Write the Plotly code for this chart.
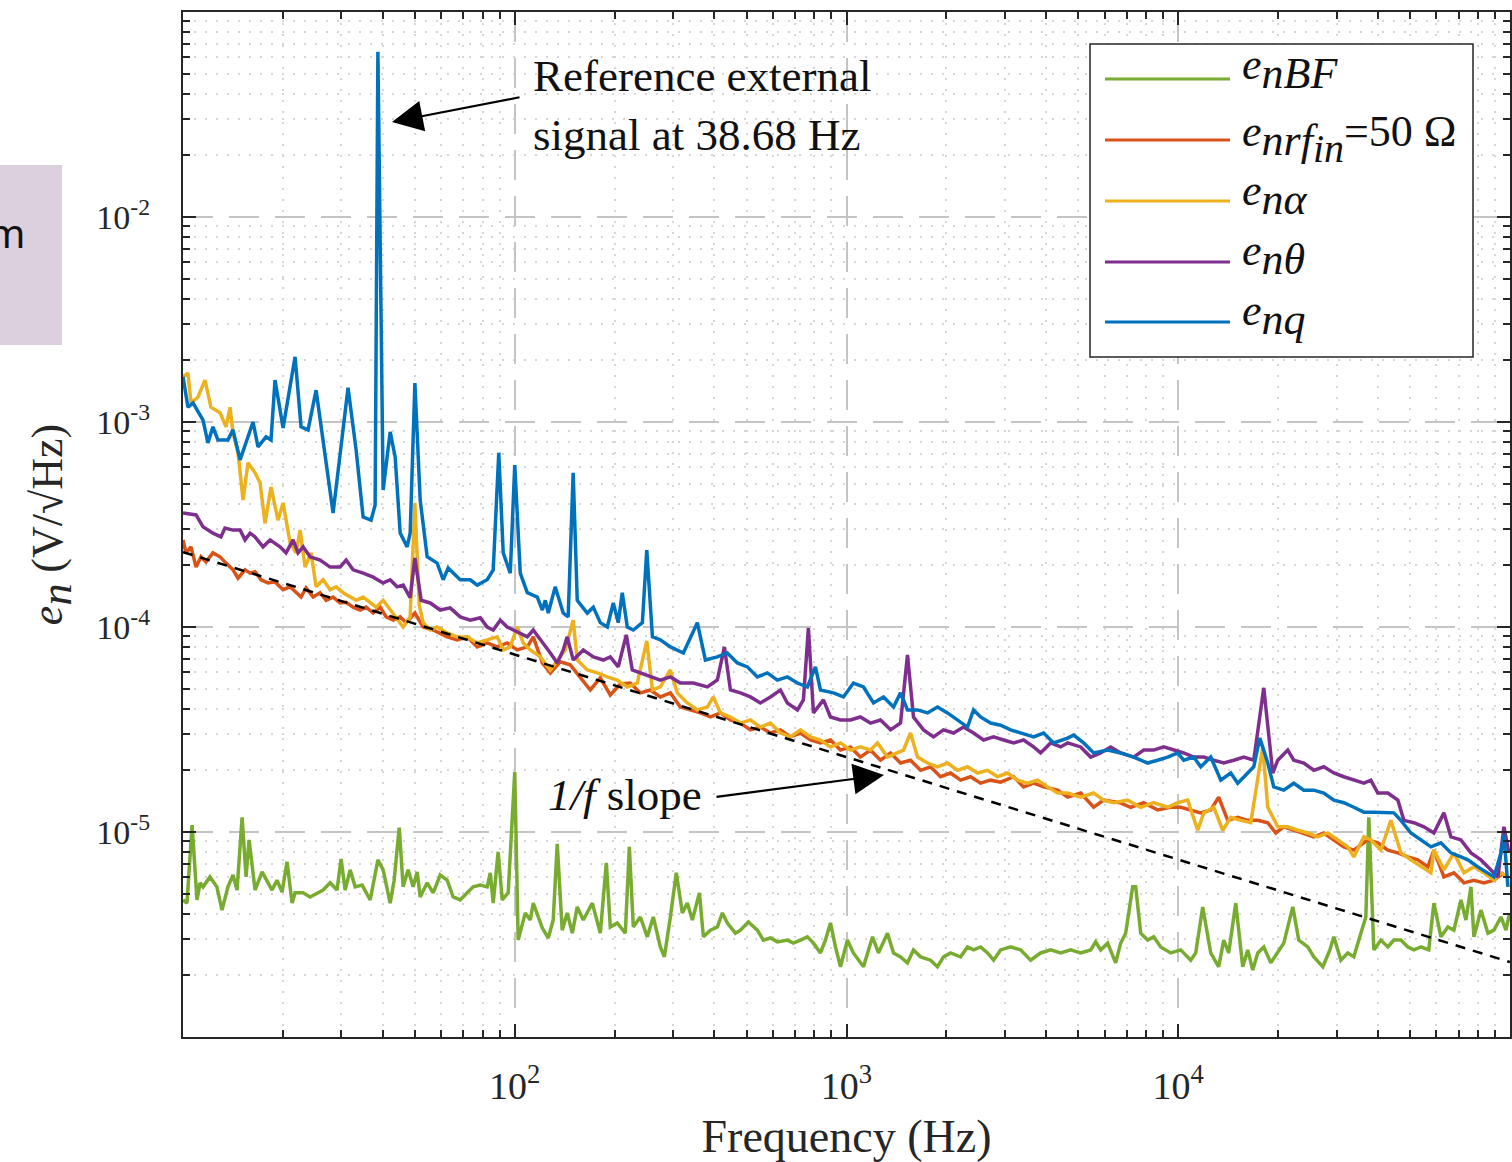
import plotly.graph_objects as go

# ---------------- data ----------------
# e_nBF (green)
freq_bf = [10.0, 10.28, 10.65, 11.02, 11.26, 11.49, 12.06, 12.65, 13.11, 13.66,
           14.15, 14.55, 15.07, 15.49, 15.82, 16.49, 17.31, 17.92, 18.55, 19.2,
           19.89, 20.59, 21.32, 21.77, 23.01, 24.16, 25.36, 26.44, 27.76, 29.13,
           29.96, 30.81, 31.9, 33.03, 34.67, 36.66, 38.68, 40.11, 42.12, 43.3,
           44.85, 46.09, 47.7, 49.41, 50.79, 51.88, 54.44, 56.77, 59.61, 62.55,
           65.23, 68.49, 71.88, 74.95, 78.7, 82.59, 84.36, 86.12, 89.1, 91.67,
           95.54, 100.0, 102.4, 107.6, 111.4, 113.7, 121.1, 126.2, 130.6, 134.3,
           139.0, 143.9, 149.1, 154.3, 160.9, 171.3, 181.1, 188.8, 194.1, 203.7,
           215.4, 221.5, 227.7, 239.1, 250.9, 261.6, 274.7, 282.5, 294.5, 306.9,
           320.0, 331.3, 343.0, 350.2, 360.3, 370.3, 388.8, 408.0, 422.5, 437.4,
           462.5, 478.9, 506.0, 538.7, 561.7, 589.8, 619.0, 663.5, 691.8, 726.4,
           762.4, 794.9, 834.6, 864.0, 894.7, 926.2, 959.1, 1006, 1049, 1125,
           1198, 1248, 1329, 1386, 1455, 1527, 1592, 1672, 1792, 1880,
           1961, 2059, 2207, 2316, 2415, 2536, 2662, 2775, 2914, 3124,
           3348, 3589, 3847, 4124, 4421, 4739, 5080, 5445, 5637, 5837,
           6125, 6476, 6706, 6942, 7288, 7442, 7706, 8086, 8432, 8854,
           9491, 10173, 10905, 11289, 11850, 12530, 13240, 13712, 14192, 14904,
           15645, 16196, 16771, 17362, 18104, 19009, 19950, 20802, 22142, 23078,
           24572, 25621, 27272, 28645, 29440, 30912, 32441, 33827, 35518, 36768,
           37529, 38868, 40811, 42831, 44661, 46894, 49213, 51317, 53883, 56900,
           58964, 61912, 64976, 67752, 71140, 73642, 76256, 77849, 81741, 85786,
           89451, 93924, 97228, 99500]
en_bf = [4.66e-6, 4.50e-6, 1.08e-5, 4.66e-6, 5.65e-6, 5.40e-6, 6.04e-6, 5.40e-6, 4.16e-6, 5.40e-6,
         6.17e-6, 5.21e-6, 1.18e-5, 6.04e-6, 9.15e-6, 5.21e-6, 6.39e-6, 5.82e-6, 5.21e-6, 5.82e-6,
         5.10e-6, 7.15e-6, 4.50e-6, 5.05e-6, 5.05e-6, 4.82e-6, 5.05e-6, 5.21e-6, 5.65e-6, 5.21e-6,
         7.39e-6, 5.21e-6, 6.54e-6, 5.40e-6, 5.51e-6, 4.66e-6, 7.31e-6, 6.54e-6, 4.50e-6, 5.82e-6,
         1.05e-5, 5.40e-6, 6.54e-6, 5.40e-6, 6.39e-6, 4.82e-6, 5.65e-6, 5.05e-6, 6.17e-6, 5.82e-6,
         4.82e-6, 4.66e-6, 5.05e-6, 5.40e-6, 5.51e-6, 5.40e-6, 6.32e-6, 4.50e-6, 8.00e-6, 4.66e-6,
         5.05e-6, 1.96e-5, 2.97e-6, 4.03e-6, 3.72e-6, 4.50e-6, 3.40e-6, 3.04e-6, 3.72e-6, 8.75e-6,
         3.32e-6, 4.03e-6, 3.21e-6, 4.31e-6, 3.72e-6, 4.50e-6, 3.21e-6, 7.07e-6, 3.44e-6, 3.60e-6,
         3.21e-6, 8.46e-6, 3.44e-6, 3.85e-6, 3.08e-6, 3.85e-6, 2.75e-6, 2.46e-6, 3.85e-6, 6.32e-6,
         4.03e-6, 4.50e-6, 3.72e-6, 4.31e-6, 5.05e-6, 3.08e-6, 3.32e-6, 3.44e-6, 4.03e-6, 3.60e-6,
         3.21e-6, 3.32e-6, 3.64e-6, 3.32e-6, 2.97e-6, 3.04e-6, 2.91e-6, 2.97e-6, 2.87e-6, 2.97e-6,
         3.08e-6, 2.87e-6, 2.57e-6, 2.97e-6, 3.60e-6, 2.75e-6, 2.20e-6, 2.97e-6, 2.57e-6, 2.20e-6,
         3.08e-6, 2.57e-6, 3.21e-6, 2.57e-6, 2.46e-6, 2.30e-6, 2.66e-6, 2.46e-6, 2.37e-6, 2.20e-6,
         2.46e-6, 2.57e-6, 2.46e-6, 2.75e-6, 2.66e-6, 2.75e-6, 2.57e-6, 2.37e-6, 2.66e-6, 2.75e-6,
         2.66e-6, 2.37e-6, 2.57e-6, 2.66e-6, 2.57e-6, 2.66e-6, 2.57e-6, 2.66e-6, 2.91e-6, 2.66e-6,
         2.87e-6, 2.30e-6, 2.87e-6, 3.21e-6, 5.40e-6, 5.40e-6, 3.21e-6, 2.97e-6, 3.08e-6, 2.75e-6,
         2.57e-6, 2.66e-6, 2.37e-6, 2.57e-6, 4.31e-6, 2.57e-6, 2.20e-6, 2.97e-6, 2.57e-6, 4.50e-6,
         2.20e-6, 2.66e-6, 2.12e-6, 2.57e-6, 2.75e-6, 2.30e-6, 2.57e-6, 2.87e-6, 4.31e-6, 2.97e-6,
         2.75e-6, 2.46e-6, 2.20e-6, 2.66e-6, 3.08e-6, 2.37e-6, 2.57e-6, 2.46e-6, 3.21e-6, 3.85e-6,
         1.18e-5, 2.66e-6, 2.97e-6, 2.75e-6, 2.97e-6, 2.97e-6, 2.75e-6, 2.66e-6, 2.75e-6, 2.66e-6,
         4.50e-6, 3.08e-6, 3.44e-6, 3.32e-6, 4.66e-6, 3.72e-6, 5.40e-6, 3.08e-6, 4.16e-6, 3.21e-6,
         3.32e-6, 3.85e-6, 3.32e-6, 3.94e-6]

# e_nrf, rf_in = 50 ohm (orange)
freq_rf = [10.0, 10.21, 10.57, 10.95, 11.33, 11.73, 12.31, 12.93, 13.48, 14.15,
           14.65, 15.38, 15.93, 16.49, 17.19, 18.04, 18.94, 20.03, 21.03, 21.92,
           22.69, 23.49, 24.67, 25.90, 27.0, 28.34, 29.76, 31.02, 32.57, 34.2,
           35.64, 37.42, 39.29, 40.95, 43.0, 45.15, 47.06, 50.0, 52.96, 56.77,
           62.55, 67.06, 71.88, 77.05, 82.59, 88.53, 94.9, 101.7, 109.1, 113.7,
           121.1, 128.0, 137.1, 147.0, 157.6, 168.9, 181.1, 194.1, 208.1, 223.0,
           239.1, 256.3, 274.7, 294.5, 315.6, 338.4, 362.7, 388.8, 416.7, 446.8,
           478.9, 513.3, 550.2, 589.8, 632.2, 677.7, 726.4, 778.7, 834.6, 894.7,
           959.1, 1028, 1101, 1181, 1266, 1358, 1455, 1559, 1672, 1792,
           1920, 2059, 2207, 2366, 2536, 2718, 2914, 3189, 3418, 3664,
           3928, 4328, 4639, 5080, 5559, 5958, 6662, 7188, 7866, 8668,
           9491, 10173, 10905, 11690, 12530, 13240, 14096, 15110, 16196, 17362,
           18611, 19678, 20802, 22298, 23902, 25621, 27464, 29440, 31557, 33827,
           37275, 39956, 42831, 45912, 49213, 52754, 56548, 58964, 63206, 67752,
           72625, 77849, 83449, 89451, 95885]
en_rf = [2.66e-4, 2.30e-4, 2.46e-4, 1.96e-4, 2.20e-4, 2.08e-4, 2.30e-4, 2.20e-4, 2.05e-4, 1.90e-4,
         1.73e-4, 1.90e-4, 1.83e-4, 1.86e-4, 1.70e-4, 1.64e-4, 1.66e-4, 1.52e-4, 1.57e-4, 1.47e-4,
         1.40e-4, 1.55e-4, 1.40e-4, 1.47e-4, 1.35e-4, 1.40e-4, 1.31e-4, 1.32e-4, 1.25e-4, 1.21e-4,
         1.25e-4, 1.17e-4, 1.25e-4, 1.12e-4, 1.08e-4, 1.12e-4, 1.05e-4, 1.17e-4, 1.0e-4, 9.67e-5,
         8.95e-5, 8.65e-5, 8.95e-5, 8.00e-5, 8.36e-5, 8.00e-5, 8.36e-5, 7.73e-5, 8.00e-5, 8.95e-5,
         6.68e-5, 5.97e-5, 6.76e-5, 6.54e-5, 5.71e-5, 4.93e-5, 5.65e-5, 4.66e-5, 5.27e-5, 5.33e-5,
         4.77e-5, 4.93e-5, 4.56e-5, 4.77e-5, 4.07e-5, 3.94e-5, 3.81e-5, 3.64e-5, 3.81e-5, 3.52e-5,
         3.40e-5, 3.15e-5, 3.25e-5, 3.04e-5, 3.15e-5, 2.91e-5, 3.04e-5, 2.81e-5, 2.72e-5, 2.81e-5,
         2.51e-5, 2.60e-5, 2.32e-5, 2.51e-5, 2.24e-5, 2.43e-5, 2.17e-5, 2.24e-5, 2.00e-5, 2.08e-5,
         1.86e-5, 1.94e-5, 1.79e-5, 1.86e-5, 1.73e-5, 1.79e-5, 1.75e-5, 1.86e-5, 1.66e-5, 1.73e-5,
         1.66e-5, 1.60e-5, 1.48e-5, 1.55e-5, 1.32e-5, 1.43e-5, 1.39e-5, 1.32e-5, 1.39e-5, 1.28e-5,
         1.32e-5, 1.32e-5, 1.28e-5, 1.24e-5, 1.28e-5, 1.48e-5, 1.14e-5, 1.18e-5, 1.14e-5, 1.14e-5,
         1.11e-5, 9.89e-6, 1.06e-5, 1.02e-5, 9.89e-6, 9.47e-6, 9.89e-6, 9.15e-6, 8.46e-6, 8.16e-6,
         9.15e-6, 8.85e-6, 8.16e-6, 7.91e-6, 7.56e-6, 7.31e-6, 6.76e-6, 8.16e-6, 6.04e-6, 6.32e-6,
         5.65e-6, 5.82e-6, 5.65e-6, 5.82e-6, 6.32e-6]

# e_n alpha (yellow)
freq_alpha = [10.0, 10.35, 10.57, 11.09, 11.65, 12.14, 12.93, 13.48, 13.86, 14.15,
              14.65, 15.17, 15.70, 16.49, 17.07, 17.67, 18.42, 19.33, 20.03, 21.03,
              21.92, 22.54, 23.33, 24.33, 25.19, 26.44, 27.76, 28.94, 30.38, 31.9,
              33.25, 34.91, 36.66, 38.21, 40.11, 42.12, 43.9, 46.09, 48.39, 50.0,
              51.54, 52.96, 55.61, 58.36, 62.55, 67.06, 71.88, 77.05, 82.59, 88.53,
              92.31, 96.93, 101.7, 106.1, 111.4, 119.4, 128.0, 137.1, 142.0, 150.0,
              154.3, 165.4, 177.3, 190.1, 203.7, 218.4, 234.1, 250.0, 260.0, 274.7,
              294.5, 309.0, 331.3, 355.1, 380.7, 396.9, 416.7, 446.8, 478.9, 513.3,
              550.2, 589.8, 632.2, 677.7, 726.4, 778.7, 834.6, 894.7, 959.1, 1028,
              1101, 1181, 1240, 1329, 1425, 1485, 1559, 1637, 1755, 1880,
              2016, 2161, 2316, 2483, 2662, 2853, 3058, 3278, 3514, 3767,
              4038, 4328, 4639, 5080, 5559, 5958, 6387, 7038, 7706, 8432,
              9292, 9960, 10677, 11445, 11933, 12792, 13616, 14398, 15433, 16543,
              17977, 18611, 19950, 21385, 22922, 24572, 26338, 28233, 30264, 32441,
              33827, 36260, 38073, 40811, 43747, 46894, 50267, 53883, 57758, 58964,
              63206, 67752, 72625, 77849, 83449, 89451, 93924, 98570]
en_alpha = [1.66e-3, 1.73e-3, 1.24e-3, 1.32e-3, 1.60e-3, 1.18e-3, 1.11e-3, 9.47e-4, 1.18e-3, 8.85e-4,
            7.07e-4, 4.16e-4, 6.32e-4, 5.65e-4, 5.05e-4, 3.21e-4, 4.82e-4, 3.32e-4, 4.03e-4, 2.57e-4,
            2.30e-4, 2.97e-4, 1.96e-4, 2.30e-4, 1.57e-4, 1.70e-4, 1.52e-4, 1.57e-4, 1.47e-4, 1.40e-4,
            1.35e-4, 1.40e-4, 1.31e-4, 1.25e-4, 1.35e-4, 1.21e-4, 1.12e-4, 1.0e-4, 1.12e-4, 4.03e-4,
            1.28e-4, 1.05e-4, 9.67e-5, 1.0e-4, 9.36e-5, 8.95e-5, 8.95e-5, 8.36e-5, 8.65e-5, 8.95e-5,
            7.73e-5, 8.00e-5, 1.0e-4, 8.36e-5, 7.73e-5, 7.15e-5, 6.17e-5, 7.15e-5, 7.73e-5, 1.08e-4,
            6.90e-5, 6.17e-5, 5.97e-5, 5.71e-5, 5.51e-5, 5.10e-5, 5.33e-5, 8.55e-5, 4.93e-5, 5.10e-5,
            6.17e-5, 4.77e-5, 4.26e-5, 3.94e-5, 4.07e-5, 4.56e-5, 3.81e-5, 3.64e-5, 3.40e-5, 3.52e-5,
            3.25e-5, 3.40e-5, 3.04e-5, 2.91e-5, 3.15e-5, 2.91e-5, 2.81e-5, 2.60e-5, 2.72e-5, 2.51e-5,
            2.60e-5, 2.51e-5, 2.72e-5, 2.32e-5, 2.43e-5, 2.51e-5, 3.04e-5, 2.32e-5, 2.17e-5, 2.08e-5,
            2.17e-5, 2.00e-5, 2.08e-5, 1.94e-5, 2.00e-5, 1.86e-5, 1.94e-5, 1.79e-5, 1.73e-5, 1.79e-5,
            1.66e-5, 1.55e-5, 1.55e-5, 1.48e-5, 1.55e-5, 1.43e-5, 1.39e-5, 1.43e-5, 1.32e-5, 1.39e-5,
            1.32e-5, 1.39e-5, 1.43e-5, 1.02e-5, 1.24e-5, 1.32e-5, 1.02e-5, 1.18e-5, 1.14e-5, 1.11e-5,
            2.60e-5, 1.32e-5, 1.06e-5, 1.06e-5, 1.02e-5, 9.89e-6, 9.47e-6, 9.89e-6, 9.15e-6, 8.46e-6,
            7.56e-6, 9.47e-6, 9.15e-6, 8.16e-6, 1.14e-5, 7.91e-6, 7.31e-6, 6.76e-6, 6.32e-6, 8.16e-6,
            6.54e-6, 7.91e-6, 6.32e-6, 6.76e-6, 6.32e-6, 5.82e-6, 6.32e-6, 6.04e-6]

# e_n theta (purple)
freq_theta = [10.0, 10.95, 11.49, 12.31, 13.01, 13.38, 14.15, 14.86, 15.38, 15.93,
              16.49, 17.43, 18.30, 19.61, 20.45, 21.47, 22.22, 23.01, 24.16, 25.90,
              27.76, 29.76, 31.02, 32.57, 34.91, 37.42, 40.11, 42.12, 44.2, 46.09,
              48.39, 50.0, 52.23, 55.61, 59.61, 63.89, 68.49, 73.42, 78.7, 82.59,
              86.12, 90.43, 94.9, 98.95, 103.9, 109.1, 113.7, 121.9, 128.0, 134.3,
              140.0, 143.9, 150.1, 160.9, 172.5, 184.9, 194.1, 205.1, 216.9, 226.1,
              239.1, 256.3, 274.7, 294.5, 315.6, 345.4, 380.7, 408.0, 428.5, 446.8,
              478.9, 513.3, 550.2, 589.8, 632.2, 663.5, 711.2, 741.6, 767.6, 794.9,
              852.1, 894.7, 959.1, 1028, 1101, 1181, 1266, 1358, 1455, 1527,
              1592, 1707, 1829, 1961, 2102, 2253, 2415, 2589, 2775, 2975,
              3189, 3418, 3664, 3847, 4124, 4421, 4639, 5080, 5445, 5837,
              6256, 6706, 7339, 7866, 8432, 9039, 9689, 10386, 11133, 11933,
              12792, 13712, 14698, 15755, 16889, 18104, 19270, 19950, 21385, 22298,
              23902, 25621, 27464, 29440, 31557, 33827, 36260, 38073, 39956, 42831,
              45912, 47873, 51317, 55008, 58964, 63206, 66366, 71140, 76256, 81741,
              87621, 91956, 95885, 99241]
en_theta = [3.60e-4, 3.52e-4, 3.08e-4, 2.87e-4, 2.75e-4, 3.04e-4, 2.97e-4, 2.97e-4, 2.66e-4, 2.87e-4,
            2.75e-4, 2.46e-4, 2.66e-4, 2.46e-4, 2.30e-4, 2.66e-4, 2.30e-4, 2.46e-4, 2.20e-4, 2.12e-4,
            1.96e-4, 1.96e-4, 2.12e-4, 1.90e-4, 1.83e-4, 1.75e-4, 1.64e-4, 1.70e-4, 1.57e-4, 1.60e-4,
            1.39e-4, 2.17e-4, 1.35e-4, 1.31e-4, 1.21e-4, 1.24e-4, 1.12e-4, 1.08e-4, 1.11e-4, 1.0e-4,
            9.67e-5, 1.08e-4, 1.0e-4, 9.67e-5, 9.36e-5, 8.95e-5, 9.67e-5, 8.36e-5, 7.47e-5, 6.68e-5,
            7.73e-5, 8.95e-5, 6.90e-5, 7.73e-5, 7.15e-5, 6.90e-5, 7.15e-5, 6.39e-5, 9.15e-5, 6.17e-5,
            5.97e-5, 5.71e-5, 5.51e-5, 5.71e-5, 5.33e-5, 5.33e-5, 5.10e-5, 5.51e-5, 8.00e-5, 4.93e-5,
            4.77e-5, 4.56e-5, 4.26e-5, 4.56e-5, 4.93e-5, 4.26e-5, 3.94e-5, 4.41e-5, 9.89e-5, 3.81e-5,
            4.41e-5, 3.64e-5, 3.52e-5, 3.52e-5, 3.64e-5, 3.40e-5, 3.52e-5, 3.15e-5, 3.40e-5, 7.31e-5,
            3.64e-5, 3.15e-5, 2.91e-5, 3.15e-5, 3.04e-5, 3.25e-5, 3.04e-5, 2.81e-5, 2.91e-5, 2.81e-5,
            2.72e-5, 2.81e-5, 2.60e-5, 2.43e-5, 2.72e-5, 2.60e-5, 2.72e-5, 2.60e-5, 2.32e-5, 2.43e-5,
            2.60e-5, 2.43e-5, 2.32e-5, 2.51e-5, 2.51e-5, 2.60e-5, 2.51e-5, 2.43e-5, 2.32e-5, 2.32e-5,
            2.24e-5, 2.17e-5, 2.24e-5, 2.32e-5, 2.24e-5, 5.05e-5, 1.94e-5, 2.24e-5, 2.51e-5, 2.24e-5,
            2.17e-5, 2.00e-5, 2.08e-5, 1.94e-5, 1.86e-5, 1.79e-5, 1.73e-5, 1.79e-5, 1.55e-5, 1.55e-5,
            1.43e-5, 1.14e-5, 1.11e-5, 1.06e-5, 9.89e-6, 1.24e-5, 9.47e-6, 9.15e-6, 7.91e-6, 7.31e-6,
            6.54e-6, 6.04e-6, 1.06e-5, 7.91e-6]

# e_nq (blue)
freq_q = [10.0, 10.35, 10.72, 11.49, 11.89, 12.31, 12.74, 13.66, 14.15, 14.86,
          16.26, 16.83, 17.80, 18.42, 18.94, 20.03, 21.77, 22.69, 23.82, 25.19,
          28.34, 31.44, 33.25, 34.91, 36.90, 37.94, 38.68, 40.11, 42.12, 43.6,
          45.15, 47.38, 48.39, 50.0, 51.88, 54.44, 58.36, 60.85, 62.98, 68.49,
          73.42, 77.05, 82.59, 86.12, 89.5, 92.31, 96.93, 100.0, 103.9, 109.1,
          116.9, 121.1, 123.6, 126.2, 132.4, 140.0, 144.9, 150.0, 154.3, 165.4,
          172.5, 181.1, 190.1, 198.2, 205.1, 210.9, 218.4, 227.7, 242.5, 250.0,
          260.0, 274.7, 294.5, 322.3, 355.1, 375.5, 408.0, 437.4, 468.9, 502.6,
          538.7, 577.4, 619.0, 663.5, 711.2, 762.4, 806.0, 834.6, 913.4, 979.1,
          1049, 1125, 1206, 1293, 1386, 1455, 1527, 1637, 1755, 1880,
          2016, 2161, 2316, 2415, 2536, 2718, 2914, 3124, 3348, 3664,
          3928, 4210, 4639, 4838, 5186, 5559, 6125, 6706, 7339, 8086,
          8668, 9292, 9960, 10386, 11133, 11690, 12530, 13432, 14398, 15110,
          16196, 16889, 17615, 18611, 19406, 20802, 22298, 23902, 25621, 27464,
          29440, 31557, 33827, 36260, 38868, 41664, 44661, 46894, 50267, 53883,
          57758, 61912, 66366, 71140, 74659, 80029, 85786, 89451, 93924, 95885,
          98570]
en_q = [1.66e-3, 1.18e-3, 1.24e-3, 1.02e-3, 7.91e-4, 9.47e-4, 8.18e-4, 8.18e-4, 9.15e-4, 6.54e-4,
        1.0e-3, 7.56e-4, 8.46e-4, 8.18e-4, 1.60e-3, 9.36e-4, 2.08e-3, 9.47e-4, 9.15e-4, 1.43e-3,
        3.60e-4, 1.47e-3, 7.31e-4, 3.44e-4, 3.32e-4, 3.94e-4, 6.39e-2, 4.66e-4, 8.95e-4, 6.76e-4,
        2.87e-4, 2.46e-4, 2.87e-4, 1.55e-3, 4.16e-4, 2.20e-4, 2.05e-4, 1.70e-4, 1.94e-4, 1.70e-4,
        1.70e-4, 1.60e-4, 1.70e-4, 1.90e-4, 7.07e-4, 2.30e-4, 1.83e-4, 6.17e-4, 1.83e-4, 1.47e-4,
        1.40e-4, 1.21e-4, 1.35e-4, 1.17e-4, 1.57e-4, 1.17e-4, 1.12e-4, 5.65e-4, 1.35e-4, 1.17e-4,
        1.25e-4, 1.05e-4, 1.0e-4, 1.31e-4, 1.05e-4, 1.47e-4, 1.0e-4, 9.67e-5, 1.05e-4, 2.37e-4,
        8.95e-5, 8.65e-5, 8.00e-5, 7.47e-5, 1.05e-4, 6.90e-5, 7.15e-5, 7.47e-5, 6.68e-5, 6.39e-5,
        5.71e-5, 5.97e-5, 5.51e-5, 5.71e-5, 5.33e-5, 5.10e-5, 6.39e-5, 4.93e-5, 4.77e-5, 4.56e-5,
        5.33e-5, 5.10e-5, 4.26e-5, 4.56e-5, 4.07e-5, 4.77e-5, 3.94e-5, 3.94e-5, 3.81e-5, 4.07e-5,
        3.81e-5, 3.52e-5, 3.25e-5, 3.94e-5, 3.64e-5, 3.40e-5, 3.32e-5, 3.15e-5, 3.04e-5, 2.91e-5,
        3.04e-5, 2.72e-5, 2.87e-5, 2.97e-5, 2.72e-5, 2.43e-5, 2.51e-5, 2.43e-5, 2.32e-5, 2.17e-5,
        2.24e-5, 2.32e-5, 2.43e-5, 2.24e-5, 2.32e-5, 2.08e-5, 2.32e-5, 1.79e-5, 1.94e-5, 1.73e-5,
        1.94e-5, 2.08e-5, 2.87e-5, 2.17e-5, 1.66e-5, 1.60e-5, 1.73e-5, 1.60e-5, 1.60e-5, 1.55e-5,
        1.43e-5, 1.39e-5, 1.32e-5, 1.25e-5, 1.25e-5, 1.24e-5, 1.24e-5, 1.14e-5, 9.89e-6, 9.15e-6,
        8.46e-6, 8.85e-6, 7.91e-6, 7.56e-6, 7.31e-6, 6.76e-6, 6.32e-6, 6.04e-6, 7.91e-6, 9.67e-6,
        5.40e-6]

# 1/f reference slope (black dashed)
slope_freq = [10, 100000]
slope_val = [2.32e-4, 2.32e-6]

x_tickvals = [1e2, 1e3, 1e4]
x_ticktext = ["10<sup>2</sup>", "10<sup>3</sup>", "10<sup>4</sup>"]
y_tickvals = [1e-5, 1e-4, 1e-3, 1e-2]
y_ticktext = ["10<sup>-5</sup>", "10<sup>-4</sup>", "10<sup>-3</sup>", "10<sup>-2</sup>"]

FULL = '<span style="font-size:44px">{}</span>'
legend_labels = [
    "<i>e</i><sub><i>" + FULL.format("nBF") + "</i></sub>",
    "<i>e</i><sub><i>" + FULL.format("nrf") + "</i><sub><i>"
    + '<span style="font-size:40px">in</span>' + "</i></sub></sub>=50 Ω",
    "<i>e</i><sub><i>" + FULL.format("nα") + "</i></sub>",
    "<i>e</i><sub><i>" + FULL.format("nθ") + "</i></sub>",
    "<i>e</i><sub><i>" + FULL.format("nq") + "</i></sub>",
]
series = [
    ("e_nBF", freq_bf, en_bf, "#77AC30"),
    ("e_nrf (rf_in = 50 Ω)", freq_rf, en_rf, "#D95319"),
    ("e_nα", freq_alpha, en_alpha, "#EDB120"),
    ("e_nθ", freq_theta, en_theta, "#7E2F8E"),
    ("e_nq", freq_q, en_q, "#0072BD"),
]
for _n, _f, _v, _c in series:
    assert len(_f) == len(_v), _n

# ---------------- figure ----------------
W, H = 1512, 1162
L, R, T, B = 183, 1510, 12, 1037
SERIF = "Liberation Serif, Times New Roman, serif"
INK = "#262626"


def pxx(x):
    return (x - L) / (R - L)


def pxy(y):
    return (B - y) / (B - T)


fig = go.Figure()
for name, f, v, color in series:
    fig.add_trace(go.Scatter(x=f, y=v, mode="lines", name=name,
                             line=dict(color=color, width=3.5), showlegend=False))
fig.add_trace(go.Scatter(x=slope_freq, y=slope_val, mode="lines", name="1/f slope",
                         line=dict(color="black", width=2.5, dash="10px,8px"),
                         showlegend=False))

x_minor = [m * 10 ** k for k in range(1, 5) for m in range(2, 10)]
y_minor = [m * 10.0 ** k for k in range(-6, -1) for m in range(2, 10)]

axis_common = dict(
    type="log", showline=True, linecolor=INK, linewidth=2, mirror="allticks",
    ticks="inside", ticklen=13, tickwidth=1.5, tickcolor=INK,
    showgrid=True, gridcolor="#c4c4c4", gridwidth=2, griddash="30px,16px",
    zeroline=False, automargin=False,
)

fig.update_layout(
    width=W, height=H,
    margin=dict(l=L, r=W - R, t=T, b=H - B, autoexpand=False),
    paper_bgcolor="white", plot_bgcolor="white",
    showlegend=False,
    xaxis=dict(
        **axis_common, range=[1, 5],
        tickmode="array", tickvals=x_tickvals, ticktext=x_ticktext,
        tickfont=dict(family=SERIF, size=38, color=INK),
        ticklabelstandoff=14,
        minor=dict(tickvals=x_minor, ticks="inside", ticklen=7, tickcolor=INK,
                   showgrid=True, gridcolor="#d6d6d6", gridwidth=1.5, griddash="2px,9px"),
        title=dict(text="Frequency (Hz)", font=dict(family=SERIF, size=46, color=INK), standoff=14),
    ),
    yaxis=dict(
        **axis_common, range=[-6, -1],
        tickmode="array", tickvals=y_tickvals, ticktext=y_ticktext,
        tickfont=dict(family=SERIF, size=34, color=INK),
        ticklabelstandoff=24,
        minor=dict(tickvals=y_minor, ticks="inside", ticklen=7, tickcolor=INK,
                   showgrid=True, gridcolor="#d6d6d6", gridwidth=1.5, griddash="2px,9px"),
        title=dict(text="<i>e</i><sub><i>" + FULL.format("n") + "</i></sub> (V/√Hz)",
                   font=dict(family=SERIF, size=44, color=INK), standoff=20),
    ),
)

shapes = []
annotations = []

# overlapping screen fragment at the left edge
shapes.append(dict(type="rect", xref="paper", yref="paper",
                   x0=pxx(0), x1=pxx(62), y0=pxy(345), y1=pxy(165),
                   fillcolor="#ddd0de", line=dict(width=0), layer="above"))
annotations.append(dict(xref="paper", yref="paper", x=pxx(27), y=pxy(233),
                        xanchor="right", yanchor="middle", showarrow=False,
                        text="m", font=dict(family="Noto Sans", size=40, color="#111111")))

# custom legend box
shapes.append(dict(type="rect", xref="paper", yref="paper",
                   x0=pxx(1090), x1=pxx(1473), y0=pxy(357), y1=pxy(44),
                   fillcolor="white", line=dict(color=INK, width=1.5), layer="above"))
legend_rows = [79, 140, 201, 262, 322]
legend_text_offset = [-10, -1, -6, -7, -7]
for (name, f, v, color), label, row, off in zip(series, legend_labels, legend_rows,
                                               legend_text_offset):
    shapes.append(dict(type="line", xref="paper", yref="paper",
                       x0=pxx(1105), x1=pxx(1230), y0=pxy(row), y1=pxy(row),
                       line=dict(color=color, width=3), layer="above"))
    annotations.append(dict(xref="paper", yref="paper", x=pxx(1240), y=pxy(row + off),
                            xanchor="left", yanchor="middle", showarrow=False, align="left",
                            text=label, font=dict(family=SERIF, size=44, color="#111111")))

# reference-signal annotation
annotations.append(dict(xref="paper", yref="paper", x=pxx(531), y=pxy(49),
                        xanchor="left", yanchor="top", showarrow=False, align="left",
                        text="Reference external<br>signal at 38.68 Hz",
                        font=dict(family=SERIF, size=45, color="#111111")))
annotations.append(dict(xref="paper", yref="paper", x=pxx(392), y=pxy(122),
                        ax=521 - 392, ay=97 - 122, text="", showarrow=True,
                        arrowhead=2, arrowsize=2.8, arrowwidth=2.2, arrowcolor="black",
                        standoff=0, startstandoff=0))

# 1/f slope annotation
annotations.append(dict(xref="paper", yref="paper", x=pxx(546), y=pxy(795),
                        xanchor="left", yanchor="middle", showarrow=False,
                        text="<i>1/f</i> slope",
                        font=dict(family=SERIF, size=45, color="#111111")))
annotations.append(dict(xref="paper", yref="paper", x=pxx(884), y=pxy(775),
                        ax=715 - 884, ay=797 - 775, text="", showarrow=True,
                        arrowhead=2, arrowsize=2.8, arrowwidth=2.2, arrowcolor="black",
                        standoff=0, startstandoff=0))

fig.update_layout(shapes=shapes, annotations=annotations)
fig.write_html("out.html", config={"displayModeBar": False},
               post_script="document.body.style.margin='0px';")
